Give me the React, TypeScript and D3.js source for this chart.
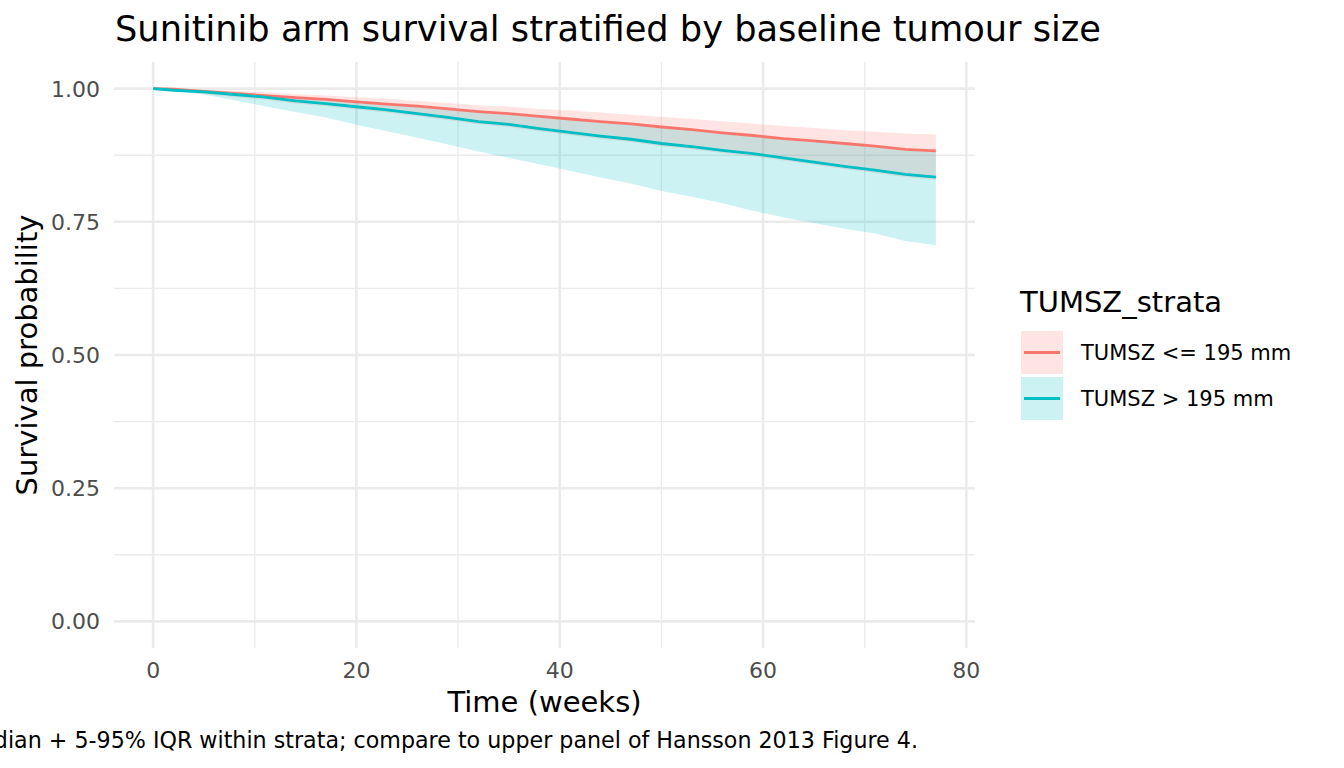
import React from 'react';
import * as d3 from 'd3';

// Time grid (weeks) shared by all series
const times = [0, 2, 5, 8, 11, 14, 17, 20, 23, 26, 29, 32, 35, 38, 41, 44, 47, 50, 53, 56, 59, 62, 65, 68, 71, 74, 77];

// TUMSZ <= 195 mm
const smallMedian = [1.0, 0.999, 0.995, 0.991, 0.987, 0.983, 0.98, 0.975, 0.971, 0.967, 0.962, 0.957, 0.953, 0.948, 0.943, 0.938, 0.934, 0.928, 0.923, 0.917, 0.912, 0.906, 0.902, 0.897, 0.892, 0.886, 0.883];
const smallLower = [1.0, 0.995, 0.99, 0.984, 0.979, 0.972, 0.967, 0.961, 0.955, 0.948, 0.941, 0.933, 0.928, 0.92, 0.913, 0.906, 0.9, 0.892, 0.886, 0.879, 0.873, 0.865, 0.857, 0.849, 0.842, 0.834, 0.829];
const smallUpper = [1.0, 1.0, 0.998, 0.996, 0.993, 0.99, 0.987, 0.984, 0.981, 0.977, 0.973, 0.969, 0.966, 0.962, 0.959, 0.955, 0.951, 0.947, 0.943, 0.939, 0.934, 0.93, 0.926, 0.922, 0.919, 0.916, 0.914];

// TUMSZ > 195 mm
const largeMedian = [1.0, 0.997, 0.994, 0.989, 0.984, 0.977, 0.972, 0.966, 0.96, 0.953, 0.946, 0.938, 0.933, 0.925, 0.918, 0.911, 0.905, 0.897, 0.891, 0.884, 0.878, 0.87, 0.862, 0.854, 0.847, 0.839, 0.834];
const largeLower = [1.0, 0.996, 0.989, 0.978, 0.967, 0.956, 0.946, 0.932, 0.92, 0.908, 0.895, 0.882, 0.87, 0.858, 0.846, 0.833, 0.822, 0.808, 0.797, 0.785, 0.771, 0.758, 0.748, 0.737, 0.728, 0.714, 0.706];
const largeUpper = [1.0, 0.998, 0.994, 0.99, 0.985, 0.981, 0.978, 0.973, 0.969, 0.965, 0.96, 0.955, 0.951, 0.946, 0.941, 0.936, 0.932, 0.926, 0.921, 0.915, 0.91, 0.904, 0.9, 0.895, 0.89, 0.884, 0.881];

const strataLabels = ['TUMSZ <= 195 mm', 'TUMSZ > 195 mm'];
const strataColors = ['#F8766D', '#00BFC4'];

const xTicks = [0, 20, 40, 60, 80];
const xMinor = [10, 30, 50, 70];
const yTicks = [0, 0.25, 0.5, 0.75, 1.0];
const yMinor = [0.125, 0.375, 0.625, 0.875];

const W = 1344;
const H = 768;
const panel = { left: 114, right: 975, top: 62, bottom: 648 };
const font = 'DejaVu Sans, sans-serif';

export default function App() {
  const x = d3.scaleLinear().domain([-3.85, 80.85]).range([panel.left, panel.right]);
  const y = d3.scaleLinear().domain([-0.05, 1.05]).range([panel.bottom, panel.top]);

  const strata = [
    { median: smallMedian, lower: smallLower, upper: smallUpper },
    { median: largeMedian, lower: largeLower, upper: largeUpper },
  ];

  const area = (lo: number[], hi: number[]) =>
    d3.area<number>()
      .x((_, i) => x(times[i]))
      .y0((_, i) => y(lo[i]))
      .y1((_, i) => y(hi[i]))(times);

  const line = (vals: number[]) =>
    d3.line<number>()
      .x((_, i) => x(times[i]))
      .y((_, i) => y(vals[i]))(times);

  const grid = '#EBEBEB';

  return (
    <svg width={W} height={H} style={{ position: 'absolute', left: 0, top: 0, background: '#fff' }} fontFamily={font}>
      {/* grid */}
      {yMinor.map(v => (
        <line key={'ym' + v} x1={panel.left} x2={panel.right} y1={y(v)} y2={y(v)} stroke={grid} strokeWidth={1.3} />
      ))}
      {xMinor.map(v => (
        <line key={'xm' + v} y1={panel.top} y2={panel.bottom} x1={x(v)} x2={x(v)} stroke={grid} strokeWidth={1.3} />
      ))}
      {yTicks.map(v => (
        <line key={'y' + v} x1={panel.left} x2={panel.right} y1={y(v)} y2={y(v)} stroke={grid} strokeWidth={2.6} />
      ))}
      {xTicks.map(v => (
        <line key={'x' + v} y1={panel.top} y2={panel.bottom} x1={x(v)} x2={x(v)} stroke={grid} strokeWidth={2.6} />
      ))}

      {/* ribbons */}
      {strata.map((s, i) => (
        <path key={'r' + i} d={area(s.lower, s.upper) || ''} fill={strataColors[i]} fillOpacity={0.2} />
      ))}
      {/* medians */}
      {strata.map((s, i) => (
        <path key={'l' + i} d={line(s.median) || ''} fill="none" stroke={strataColors[i]} strokeWidth={2.8} />
      ))}

      {/* axis labels */}
      {xTicks.map(v => (
        <text key={'xt' + v} x={x(v)} y={678} textAnchor="middle" fontSize={22} fill="#4D4D4D">{v}</text>
      ))}
      {yTicks.map(v => (
        <text key={'yt' + v} x={100} y={y(v)} dy="0.36em" textAnchor="end" fontSize={22} fill="#4D4D4D">{v.toFixed(2)}</text>
      ))}

      <text x={(panel.left + panel.right) / 2} y={712} textAnchor="middle" fontSize={29} fill="#000">Time (weeks)</text>
      <text transform={`translate(37,${(panel.top + panel.bottom) / 2}) rotate(-90)`} textAnchor="middle" fontSize={29} fill="#000">Survival probability</text>
      <text x={115} y={41} fontSize={35.2} fill="#000">Sunitinib arm survival stratified by baseline tumour size</text>
      <text x={918} y={748} textAnchor="end" fontSize={22.2} fill="#000">Median + 5-95% IQR within strata; compare to upper panel of Hansson 2013 Figure 4.</text>

      {/* legend */}
      <text x={1020} y={312} fontSize={29} fill="#000">TUMSZ_strata</text>
      {strataLabels.map((lab, i) => {
        const top = 331 + i * 46;
        return (
          <g key={'lg' + i}>
            <rect x={1021} y={top} width={42} height={43} fill={strataColors[i]} fillOpacity={0.2} />
            <line x1={1024} x2={1060} y1={top + 21.5} y2={top + 21.5} stroke={strataColors[i]} strokeWidth={2.8} />
            <text x={1081} y={top + 21.5} dy="0.36em" fontSize={21} fill="#000">{lab}</text>
          </g>
        );
      })}
    </svg>
  );
}
